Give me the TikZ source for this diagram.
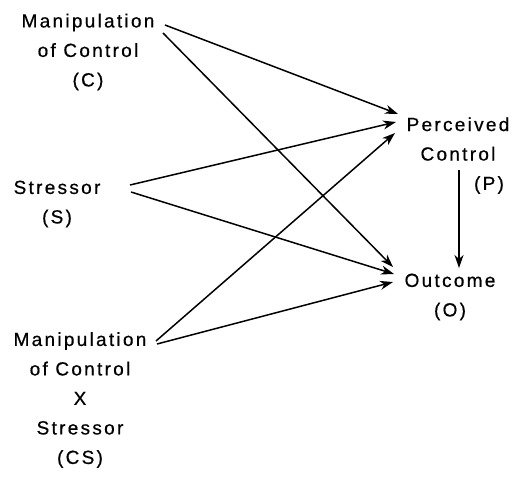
\documentclass[tikz,border=0pt]{standalone}
\usepackage{fontspec}
\setmainfont[LetterSpace=12,FakeBold=0.6]{Liberation Sans}
\usetikzlibrary{arrows.meta}
\begin{document}
\begin{tikzpicture}[x=1pt,y=-1pt,
  lbl/.style={inner sep=0pt,align=center,font=\fontsize{19}{29.5}\selectfont},
  conn/.style={line width=1.5pt,-{Stealth[length=13pt,width=9pt,inset=4pt]}}]
\useasboundingbox (0,0) rectangle (516,477);
% text blocks
\node[lbl] (C) at (88,52) {Manipulation\\of Control\\(C)};
\node[lbl] (S) at (57,204) {Stressor\\(S)};
\node[lbl] (CS) at (80,400) {Manipulation\\of Control\\X\\Stressor\\(CS)};
\node[lbl] (P) at (458,139) {Perceived\\Control};
\node[lbl] (Pl) at (489,185) {(P)};
\node[lbl] (O) at (450,297) {Outcome\\(O)};
% connector ends
\coordinate (c1) at (165,25);
\coordinate (c2) at (163,33);
\coordinate (s1) at (130,185);
\coordinate (s2) at (131,192);
\coordinate (x1) at (156,341);
\coordinate (x2) at (157,344);
\coordinate (p1) at (398,114);
\coordinate (p2) at (396,122);
\coordinate (p3) at (395,133);
\coordinate (o1) at (393,267);
\coordinate (o2) at (394,274);
\coordinate (o3) at (393,282);
\coordinate (pv) at (459,170);
\coordinate (ov) at (459,268);
% connectors
\draw[conn] (c1) -- (p1);
\draw[conn] (c2) -- (o1);
\draw[conn] (s1) -- (p2);
\draw[conn] (s2) -- (o2);
\draw[conn] (x1) -- (p3);
\draw[conn] (x2) -- (o3);
\draw[conn] (pv) -- (ov);
\end{tikzpicture}
\end{document}
